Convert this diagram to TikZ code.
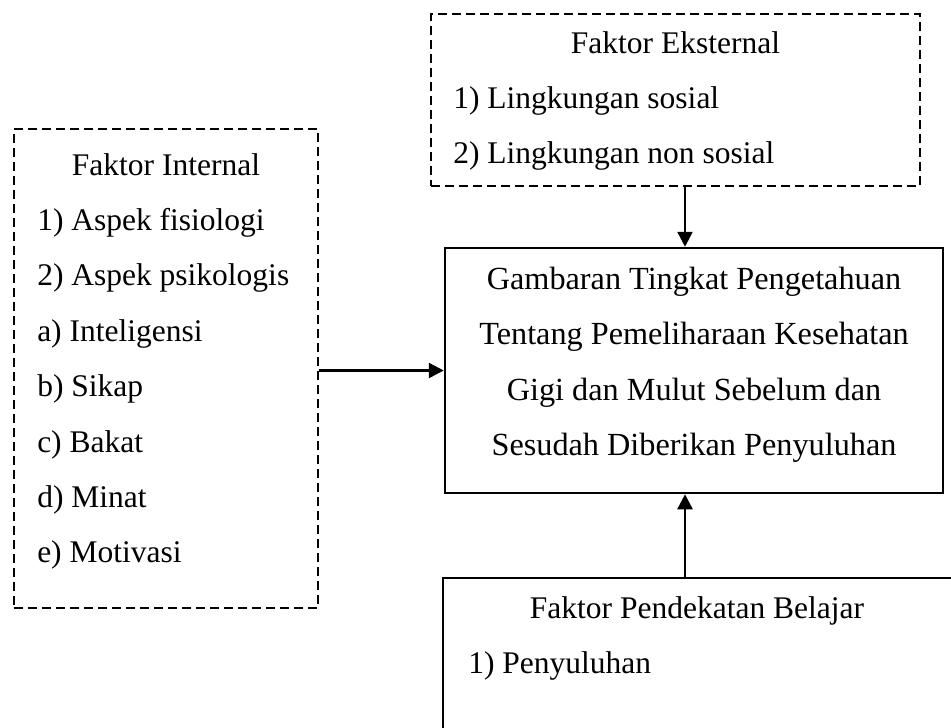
\documentclass[tikz,border=0pt]{standalone}
\usepackage{fontspec}
\setmainfont{Liberation Serif}
\usetikzlibrary{arrows.meta}

\begin{document}
\begin{tikzpicture}[x=0.4pt,y=-0.4pt,>={Triangle[length=6pt,width=6pt]},
                    line width=1pt,
                    box/.style={draw,inner sep=0pt},
                    dashbox/.style={box,dash pattern=on 3.6pt off 2pt},
                    txt/.style={inner sep=0pt,font=\fontsize{12.6pt}{22.16pt}\selectfont},
                    head/.style={txt,anchor=base},
                    items/.style={txt,align=left,anchor=base west}]

  \clip (0,0) rectangle (951,727);

  % boxes
  \node[dashbox,minimum width=121.6pt,minimum height=191.6pt] (intbox) at (166,368.5) {};
  \node[dashbox,minimum width=195.6pt,minimum height=68.8pt] (extbox) at (675.5,100) {};
  \node[box,minimum width=199.2pt,minimum height=98pt] (mainbox) at (694,370.5) {};
  \node[box,minimum width=204pt,minimum height=72pt] (belbox) at (698,668) {};

  % texts (multi-line nodes sit on their last baseline)
  \node[head] (inttitle) at (166,175) {Faktor Internal};
  \node[items] (intlist) at (36,562.8) {1) Aspek fisiologi\\2) Aspek psikologis\\a) Inteligensi\\b) Sikap\\c) Bakat\\d) Minat\\e) Motivasi};
  \node[head] (exttitle) at (675.5,53) {Faktor Eksternal};
  \node[items] (extlist) at (452,163.4) {1) Lingkungan sosial\\2) Lingkungan non sosial};
  \node[head,align=center,font=\fontsize{12.9pt}{22.16pt}\selectfont] (maintext) at (694,455.5) {Gambaran Tingkat Pengetahuan\\Tentang Pemeliharaan Kesehatan\\Gigi dan Mulut Sebelum dan\\Sesudah Diberikan Penyuluhan};
  \node[head] (beltitle) at (697,618) {Faktor Pendekatan Belajar};
  \node[items] (bellist) at (467,673) {1) Penyuluhan};

  % arrows
  \coordinate (mainin) at ([xshift=-3.6pt]mainbox.north);
  \coordinate (mainout) at ([xshift=-3.6pt]mainbox.south);
  \draw[->] (mainbox.west -| intbox.east) -- (mainbox.west);
  \draw[->] (mainin |- extbox.south) -- (mainin);
  \draw[->] (mainout |- belbox.north) -- (mainout);

\end{tikzpicture}
\end{document}
